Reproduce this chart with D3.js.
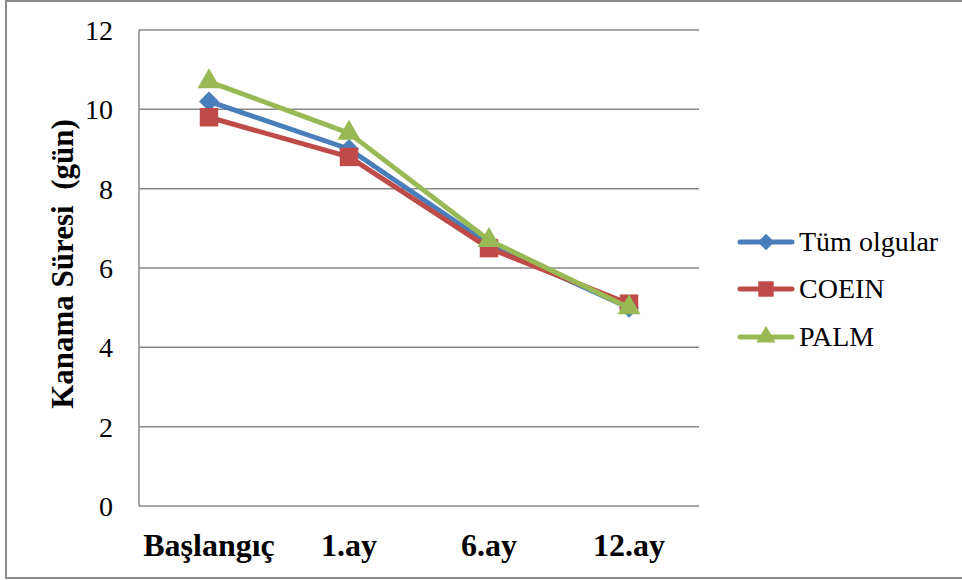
<!DOCTYPE html>
<html>
<head>
<meta charset="utf-8">
<script src="https://cdn.jsdelivr.net/npm/d3@7"></script>
<style>
  html, body { margin: 0; padding: 0; background: #fff; }
  svg { display: block; }
</style>
</head>
<body>
<svg id="chart" width="962" height="580"></svg>
<script>
// Bleeding duration (days) over follow-up
const categories = ["Başlangıç", "1.ay", "6.ay", "12.ay"];
const seriesNames = ["Tüm olgular", "COEIN", "PALM"];
const tumOlgular = [10.2, 9.0, 6.6, 5.0];
const coein = [9.8, 8.8, 6.5, 5.1];
const palm = [10.7, 9.4, 6.7, 5.0];
const yTicks = [0, 2, 4, 6, 8, 10, 12];

const colors = ["#4A7EBB", "#BE4B48", "#98B954"];
const seriesValues = [tumOlgular, coein, palm];

// marker shapes: diamond = square turned 45 degrees
const markerDefs = [
  { type: d3.symbolSquare, size: 200, rotate: 45 },
  { type: d3.symbolSquare, size: 340, rotate: 0 },
  { type: d3.symbolTriangle, size: 230, rotate: 0 }
];

const svg = d3.select("#chart");
const serif = "Liberation Serif";

// outer frame
svg.append("rect")
  .attr("x", 6).attr("y", 1).attr("width", 958).attr("height", 577)
  .attr("fill", "none").attr("stroke", "#8c8c8c").attr("stroke-width", 2);

const plot = { left: 139, right: 699, top: 30, bottom: 506 };

const x = d3.scaleBand().domain(categories).range([plot.left, plot.right]);
const y = d3.scaleLinear().domain([0, 12]).range([plot.bottom, plot.top]);

// horizontal gridlines
svg.append("g")
  .selectAll("line")
  .data(yTicks)
  .join("line")
  .attr("x1", plot.left).attr("x2", plot.right)
  .attr("y1", d => y(d)).attr("y2", d => y(d))
  .attr("stroke", "#878787").attr("stroke-width", 1.5);

// vertical axis line
svg.append("line")
  .attr("x1", plot.left).attr("x2", plot.left)
  .attr("y1", plot.top).attr("y2", plot.bottom)
  .attr("stroke", "#878787").attr("stroke-width", 1.5);

// y tick labels
const yAxis = d3.axisLeft(y).tickValues(yTicks).tickSize(0).tickPadding(26);
const gy = svg.append("g").attr("transform", `translate(${plot.left},0)`).call(yAxis);
gy.attr("font-family", serif).attr("font-size", 28);
gy.select(".domain").remove();
gy.selectAll("text").attr("fill", "#000").attr("dy", "0.34em");

// x tick labels
const xAxis = d3.axisBottom(x).tickSize(0);
const gx = svg.append("g").attr("transform", `translate(0,${plot.bottom})`).call(xAxis);
gx.attr("font-family", serif).attr("font-size", 32).attr("font-weight", "bold");
gx.select(".domain").remove();
gx.selectAll("text").attr("fill", "#000").attr("y", 50).attr("dy", 0);

// y axis title
svg.append("text")
  .attr("transform", `translate(73,${(plot.top + plot.bottom) / 2 - 4}) rotate(-90)`)
  .attr("text-anchor", "middle")
  .attr("font-family", serif).attr("font-size", 31).attr("font-weight", "bold")
  .style("white-space", "pre")
  .text("Kanama Süresi  (gün)");

const cx = c => x(c) + x.bandwidth() / 2;
const line = d3.line().x((d, i) => cx(categories[i])).y(d => y(d));

seriesValues.forEach((vals, s) => {
  const g = svg.append("g");
  const m = markerDefs[s];
  g.append("path")
    .datum(vals)
    .attr("d", line)
    .attr("fill", "none")
    .attr("stroke", colors[s]).attr("stroke-width", 5)
    .attr("stroke-linejoin", "round").attr("stroke-linecap", "round");
  g.selectAll("path.m")
    .data(vals)
    .join("path")
    .attr("class", "m")
    .attr("d", d3.symbol().type(m.type).size(m.size))
    .attr("transform", (d, i) => `translate(${cx(categories[i])},${y(d)}) rotate(${m.rotate})`)
    .attr("fill", colors[s]);
});

// legend
const legend = svg.append("g");
const legendY = [242, 289, 337];
seriesNames.forEach((name, s) => {
  const m = markerDefs[s];
  const row = legend.append("g").attr("transform", `translate(0,${legendY[s]})`);
  row.append("line")
    .attr("x1", 740).attr("x2", 792).attr("y1", 0).attr("y2", 0)
    .attr("stroke", colors[s]).attr("stroke-width", 5).attr("stroke-linecap", "round");
  row.append("path")
    .attr("d", d3.symbol().type(m.type).size(m.size * 0.7))
    .attr("transform", `translate(766,0) rotate(${m.rotate})`)
    .attr("fill", colors[s]);
  row.append("text")
    .attr("x", 799).attr("y", 0).attr("dy", "0.33em")
    .attr("font-family", serif).attr("font-size", 28).attr("fill", "#000")
    .text(name);
});
</script>
</body>
</html>
